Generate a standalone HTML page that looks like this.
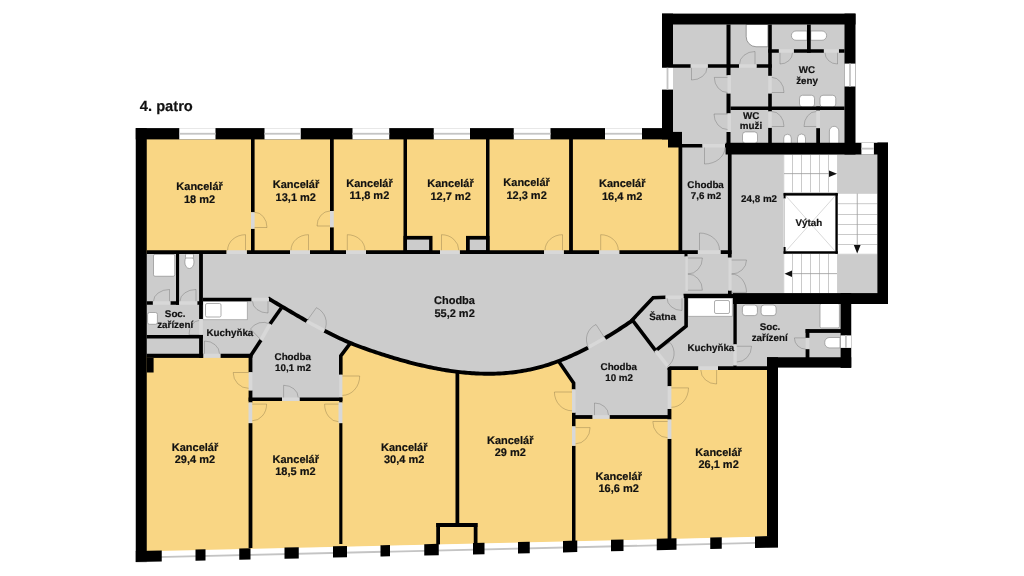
<!DOCTYPE html>
<html><head><meta charset="utf-8"><style>
html,body{margin:0;padding:0;background:#fff;width:1024px;height:576px;overflow:hidden}
svg{display:block;will-change:transform}
text{font-family:"Liberation Sans",sans-serif;font-weight:bold;fill:#111;stroke:#111;stroke-width:0.18;text-rendering:geometricPrecision}
</style></head><body>
<svg width="1024" height="576" viewBox="0 0 1024 576">
<polygon points="146.00,139.00 683.00,139.00 683.00,368.00 768.00,368.00 768.00,537.00 146.00,552.00" fill="#F9D684" />
<polygon points="202.00,253.00 732.00,253.00 732.00,296.00 686.00,296.00 653.00,297.50 632.40,320.00 633.50,319.76 632.00,320.78 630.00,322.13 628.00,323.48 626.00,324.81 624.00,326.13 622.00,327.44 620.00,328.74 618.00,330.02 616.00,331.30 614.00,332.56 612.00,333.80 610.00,335.04 608.00,336.26 606.00,337.46 604.00,338.66 602.00,339.83 600.00,340.99 598.00,342.14 596.00,343.27 594.00,344.38 592.00,345.48 590.00,346.56 588.00,347.62 586.00,348.67 584.00,349.69 582.00,350.70 580.00,351.70 578.00,352.67 576.00,353.62 574.00,354.55 572.00,355.47 570.00,356.36 568.00,357.24 566.00,358.09 564.00,358.92 562.00,359.73 560.00,360.52 558.00,361.28 556.00,362.03 554.00,362.75 552.00,363.45 550.00,364.12 548.00,364.77 546.00,365.40 544.00,366.00 542.00,366.58 540.00,367.13 538.00,367.66 536.00,368.17 534.00,368.65 532.00,369.10 530.00,369.54 528.00,369.95 526.00,370.34 524.00,370.70 522.00,371.05 520.00,371.37 518.00,371.67 516.00,371.95 514.00,372.21 512.00,372.45 510.00,372.66 508.00,372.86 506.00,373.04 504.00,373.19 502.00,373.33 500.00,373.44 498.00,373.54 496.00,373.62 494.00,373.68 492.00,373.73 490.00,373.75 488.00,373.76 486.00,373.74 484.00,373.72 482.00,373.67 480.00,373.61 478.00,373.53 476.00,373.43 474.00,373.32 472.00,373.20 470.00,373.05 468.00,372.90 466.00,372.72 464.00,372.54 462.00,372.33 460.00,372.12 458.00,371.89 456.00,371.64 454.00,371.38 452.00,371.11 450.00,370.82 448.00,370.52 446.00,370.21 444.00,369.89 442.00,369.55 440.00,369.20 438.00,368.83 436.00,368.46 434.00,368.07 432.00,367.67 430.00,367.26 428.00,366.83 426.00,366.40 424.00,365.95 422.00,365.49 420.00,365.02 418.00,364.55 416.00,364.06 414.00,363.56 412.00,363.05 410.00,362.53 408.00,362.00 406.00,361.46 404.00,360.91 402.00,360.35 400.00,359.78 398.00,359.20 396.00,358.62 394.00,358.02 392.00,357.42 390.00,356.81 388.00,356.19 386.00,355.57 384.00,354.93 382.00,354.29 380.00,353.64 378.00,352.99 376.00,352.32 374.00,351.65 372.00,350.98 370.00,350.29 368.00,349.60 366.00,348.90 364.00,348.20 362.00,347.48 360.00,346.74 358.00,346.00 356.00,345.23 354.00,344.45 352.00,343.65 350.00,342.83 348.00,341.99 346.00,341.13 344.00,340.25 342.00,339.35 340.00,338.43 338.00,337.49 336.00,336.53 334.00,335.56 332.00,334.57 330.00,333.57 328.00,332.55 326.00,331.52 324.00,330.47 322.00,329.42 320.00,328.35 318.00,327.27 316.00,326.18 314.00,325.08 312.00,323.97 310.00,322.85 308.00,321.73 306.00,320.59 304.00,319.45 302.00,318.30 300.00,317.15 298.00,315.99 296.00,314.82 294.00,313.65 292.00,312.48 290.00,311.30 288.00,310.12 286.00,308.94 284.00,307.76 282.00,306.57 280.00,305.39 278.00,304.20 276.00,303.02 274.00,301.83 272.00,300.65 270.00,299.47 269.00,298.50 202.00,298.50" fill="#CCCCCC" />
<rect x="146.00" y="253.00" width="57.00" height="103.00" fill="#CCCCCC" />
<polygon points="202.00,298.00 269.00,298.75 281.30,308.00 270.00,324.00 261.00,340.00 249.75,356.00 202.00,356.00" fill="#CCCCCC" />
<polygon points="281.30,308.00 282.00,306.57 284.00,307.76 286.00,308.94 288.00,310.12 290.00,311.30 292.00,312.48 294.00,313.65 296.00,314.82 298.00,315.99 300.00,317.15 302.00,318.30 304.00,319.45 306.00,320.59 308.00,321.73 310.00,322.85 312.00,323.97 314.00,325.08 316.00,326.18 318.00,327.27 320.00,328.35 322.00,329.42 324.00,330.47 326.00,331.52 328.00,332.55 330.00,333.57 332.00,334.57 334.00,335.56 336.00,336.53 338.00,337.49 340.00,338.43 342.00,339.35 344.00,340.25 346.00,341.13 348.00,341.99 350.00,342.83 350.00,343.70 341.00,356.00 341.00,400.00 250.50,400.00 250.50,355.50 261.00,340.00 270.00,324.00" fill="#CCCCCC" />
<polygon points="558.80,361.60 558.00,361.28 560.00,360.52 562.00,359.73 564.00,358.92 566.00,358.09 568.00,357.24 570.00,356.36 572.00,355.47 574.00,354.55 576.00,353.62 578.00,352.67 580.00,351.70 582.00,350.70 584.00,349.69 586.00,348.67 588.00,347.62 590.00,346.56 592.00,345.48 594.00,344.38 596.00,343.27 598.00,342.14 600.00,340.99 602.00,339.83 604.00,338.66 606.00,337.46 608.00,336.26 610.00,335.04 612.00,333.80 614.00,332.56 616.00,331.30 618.00,330.02 620.00,328.74 622.00,327.44 624.00,326.13 626.00,324.81 628.00,323.48 630.00,322.13 632.00,320.78 632.40,320.00 655.60,350.60 669.50,367.00 669.50,417.00 573.75,417.00 573.75,383.00" fill="#CCCCCC" />
<polygon points="653.00,297.50 686.00,296.00 686.00,326.00 655.60,350.60 632.40,320.00" fill="#CCCCCC" />
<polygon points="686.00,296.00 735.00,296.00 735.00,368.00 669.50,368.00 655.60,350.60 686.00,326.00" fill="#CCCCCC" />
<rect x="735.00" y="300.00" width="107.00" height="68.00" fill="#CCCCCC" />
<rect x="680.00" y="145.00" width="200.00" height="151.00" fill="#CCCCCC" />
<rect x="672.00" y="24.00" width="173.00" height="120.00" fill="#CCCCCC" />
<rect x="783.60" y="154.75" width="54.00" height="38.05" fill="#FFFFFF" />
<rect x="783.60" y="253.75" width="54.00" height="39.35" fill="#FFFFFF" />
<rect x="837.60" y="193.10" width="39.80" height="61.30" fill="#FFFFFF" />
<rect x="792.10" y="154.75" width="0.80" height="38.05" fill="#BDBDBD" />
<rect x="792.10" y="253.75" width="0.80" height="39.35" fill="#BDBDBD" />
<rect x="801.10" y="154.75" width="0.80" height="38.05" fill="#BDBDBD" />
<rect x="801.10" y="253.75" width="0.80" height="39.35" fill="#BDBDBD" />
<rect x="810.10" y="154.75" width="0.80" height="38.05" fill="#BDBDBD" />
<rect x="810.10" y="253.75" width="0.80" height="39.35" fill="#BDBDBD" />
<rect x="819.10" y="154.75" width="0.80" height="38.05" fill="#BDBDBD" />
<rect x="819.10" y="253.75" width="0.80" height="39.35" fill="#BDBDBD" />
<rect x="828.10" y="154.75" width="0.80" height="38.05" fill="#BDBDBD" />
<rect x="828.10" y="253.75" width="0.80" height="39.35" fill="#BDBDBD" />
<rect x="783.60" y="154.75" width="0.60" height="38.05" fill="#BDBDBD" />
<rect x="837.00" y="154.75" width="0.60" height="38.05" fill="#BDBDBD" />
<rect x="783.60" y="253.75" width="0.60" height="39.35" fill="#BDBDBD" />
<rect x="837.00" y="253.75" width="0.60" height="39.35" fill="#BDBDBD" />
<rect x="783.60" y="192.20" width="54.00" height="0.60" fill="#BDBDBD" />
<rect x="837.60" y="203.35" width="39.80" height="0.80" fill="#BDBDBD" />
<rect x="837.60" y="214.00" width="39.80" height="0.80" fill="#BDBDBD" />
<rect x="837.60" y="224.00" width="39.80" height="0.80" fill="#BDBDBD" />
<rect x="837.60" y="234.00" width="39.80" height="0.80" fill="#BDBDBD" />
<rect x="837.60" y="244.00" width="39.80" height="0.80" fill="#BDBDBD" />
<rect x="837.60" y="193.10" width="39.80" height="0.60" fill="#BDBDBD" />
<rect x="837.60" y="253.80" width="39.80" height="0.60" fill="#BDBDBD" />
<rect x="784.00" y="173.30" width="46.00" height="0.80" fill="#9A9A9A" />
<polygon points="829.00,170.50 837.00,173.70 829.00,176.90" fill="#111" />
<rect x="856.80" y="193.50" width="0.80" height="52.50" fill="#9A9A9A" />
<polygon points="853.80,245.00 857.20,253.50 860.60,245.00" fill="#111" />
<rect x="790.00" y="273.30" width="47.00" height="0.80" fill="#9A9A9A" />
<polygon points="792.00,270.50 784.50,273.70 792.00,276.90" fill="#111" />
<rect x="783.60" y="193.10" width="54.15" height="60.65" fill="#FFFFFF" />
<line x1="786" y1="196" x2="835" y2="251" stroke="#C8C8C8" stroke-width="0.7"/>
<line x1="835" y1="196" x2="786" y2="251" stroke="#C8C8C8" stroke-width="0.7"/>
<rect x="783.60" y="193.10" width="54.15" height="2.50" fill="#000000" />
<rect x="835.40" y="193.10" width="2.35" height="60.65" fill="#000000" />
<rect x="783.60" y="251.25" width="54.15" height="2.50" fill="#000000" />
<rect x="783.60" y="193.10" width="2.00" height="5.40" fill="#000000" />
<rect x="783.60" y="247.00" width="2.00" height="6.75" fill="#000000" />
<rect x="783.90" y="198.50" width="0.80" height="48.50" fill="#BBBBBB" />
<rect x="153.50" y="254.40" width="21.25" height="21.85" rx="1.5" fill="#FFFFFF" stroke="#8C8C8C" stroke-width="0.7"/>
<ellipse cx="189.40" cy="262.00" rx="4.60" ry="6.50" fill="#FFFFFF" stroke="#8C8C8C" stroke-width="0.7"/>
<rect x="185.50" y="254.00" width="8.00" height="4.00" rx="1" fill="#FFFFFF" stroke="#8C8C8C" stroke-width="0.7"/>
<rect x="202.9" y="301.25" width="44.35" height="18.5" fill="#FFF" stroke="#9A9A9A" stroke-width="0.7"/>
<rect x="205.50" y="303.50" width="15.50" height="13.50" rx="1.5" fill="#FFFFFF" stroke="#8C8C8C" stroke-width="0.7"/>
<rect x="147.60" y="312.50" width="9.80" height="11.80" rx="2" fill="#FFFFFF" stroke="#8C8C8C" stroke-width="0.7"/>
<rect x="687.9" y="298" width="44.35" height="18.25" fill="#FFF" stroke="#9A9A9A" stroke-width="0.7"/>
<rect x="714.50" y="300.50" width="15.00" height="13.00" rx="1.5" fill="#FFFFFF" stroke="#8C8C8C" stroke-width="0.7"/>
<rect x="742.40" y="305.00" width="15.00" height="10.60" rx="3" fill="#FFFFFF" stroke="#8C8C8C" stroke-width="0.7"/>
<rect x="761.10" y="305.00" width="15.00" height="10.60" rx="3" fill="#FFFFFF" stroke="#8C8C8C" stroke-width="0.7"/>
<rect x="820.00" y="303.50" width="19.40" height="24.40" rx="1.5" fill="#FFFFFF" stroke="#8C8C8C" stroke-width="0.7"/>
<path d="M840,337.5 L829,337.5 A5.3,5.3 0 0 0 829,347.9 L840,347.9 Z" fill="#FFF" stroke="#8C8C8C" stroke-width="0.7"/>
<path d="M746.2,24.5 L767.9,24.5 L767.9,46.75 L756,46.75 A10,10 0 0 1 746.2,36.5 Z" fill="#FFF" stroke="#777" stroke-width="0.7"/>
<path d="M807,31 L796,31 A4.6,4.6 0 0 0 796,40.25 L807,40.25 Z" fill="#FFF" stroke="#8C8C8C" stroke-width="0.7"/>
<path d="M810.75,31 L822,31 A4.6,4.6 0 0 1 822,40.25 L810.75,40.25 Z" fill="#FFF" stroke="#8C8C8C" stroke-width="0.7"/>
<rect x="799.50" y="95.25" width="15.00" height="11.75" rx="3" fill="#FFFFFF" stroke="#8C8C8C" stroke-width="0.7"/>
<rect x="820.00" y="95.25" width="15.75" height="11.75" rx="3" fill="#FFFFFF" stroke="#8C8C8C" stroke-width="0.7"/>
<rect x="742.50" y="131.90" width="15.00" height="11.60" rx="3" fill="#FFFFFF" stroke="#8C8C8C" stroke-width="0.7"/>
<path d="M783.75,143.5 L783.75,138 A3.75,3.75 0 0 1 791.25,138 L791.25,143.5 Z" fill="#FFF" stroke="#8C8C8C" stroke-width="0.7"/>
<path d="M797.5,143.5 L797.5,138 A4,4 0 0 1 805.5,138 L805.5,143.5 Z" fill="#FFF" stroke="#8C8C8C" stroke-width="0.7"/>
<path d="M829.4,143.5 L829.4,131 A4.7,4.7 0 0 1 838.8,131 L838.8,143.5 Z" fill="#FFF" stroke="#8C8C8C" stroke-width="0.7"/>
<rect x="135.75" y="128.10" width="537.25" height="11.30" fill="#000000" />
<rect x="662.00" y="13.60" width="11.00" height="125.80" fill="#000000" />
<rect x="668.00" y="131.90" width="14.00" height="15.60" fill="#000000" />
<rect x="662.00" y="13.60" width="193.50" height="10.90" fill="#000000" />
<rect x="844.50" y="13.60" width="11.00" height="140.90" fill="#000000" />
<rect x="725.60" y="142.75" width="162.40" height="11.75" fill="#000000" />
<rect x="877.40" y="142.50" width="10.60" height="161.50" fill="#000000" />
<rect x="733.00" y="293.10" width="155.00" height="10.90" fill="#000000" />
<rect x="840.60" y="293.00" width="10.65" height="74.90" fill="#000000" />
<rect x="767.00" y="357.25" width="84.25" height="10.25" fill="#000000" />
<rect x="767.00" y="357.25" width="11.00" height="190.25" fill="#000000" />
<rect x="135.75" y="128.10" width="11.00" height="434.00" fill="#000000" />
<rect x="146.75" y="358.00" width="6.85" height="14.50" fill="#000000" />
<polygon points="135.75,551.51 778.00,536.34 778.00,547.50 135.75,562.10" fill="#FFFFFF" />
<polygon points="146.00,556.47 767.00,541.80 767.00,543.60 146.00,558.27" fill="#C4C4C4" />
<polygon points="135.75,551.01 161.75,550.40 161.75,561.51 135.75,562.10" fill="#000000" />
<polygon points="195.50,549.60 205.50,549.36 205.50,560.51 195.50,560.74" fill="#000000" />
<polygon points="239.25,548.57 250.50,548.30 250.50,559.49 239.25,559.75" fill="#000000" />
<polygon points="284.50,547.50 298.75,547.16 298.75,558.39 284.50,558.72" fill="#000000" />
<polygon points="333.00,546.35 347.00,546.02 347.00,557.30 333.00,557.62" fill="#000000" />
<polygon points="380.50,545.23 390.00,545.01 390.00,556.32 380.50,556.54" fill="#000000" />
<polygon points="424.25,544.20 438.75,543.85 438.75,555.21 424.25,555.54" fill="#000000" />
<polygon points="473.00,543.05 484.50,542.77 484.50,554.17 473.00,554.43" fill="#000000" />
<polygon points="518.00,541.98 529.75,541.71 529.75,553.14 518.00,553.41" fill="#000000" />
<polygon points="563.00,540.92 577.25,540.58 577.25,552.06 563.00,552.39" fill="#000000" />
<polygon points="611.00,539.79 623.50,539.49 623.50,551.01 611.00,551.29" fill="#000000" />
<polygon points="656.75,538.71 676.50,538.24 676.50,549.81 656.75,550.25" fill="#000000" />
<polygon points="710.25,537.44 721.75,537.17 721.75,548.78 710.25,549.04" fill="#000000" />
<polygon points="755.00,536.39 778.00,535.84 778.00,547.50 755.00,548.02" fill="#000000" />
<rect x="251.00" y="139.00" width="3.60" height="73.25" fill="#000000" />
<rect x="251.00" y="228.75" width="3.60" height="25.25" fill="#000000" />
<rect x="330.00" y="139.00" width="3.75" height="72.00" fill="#000000" />
<rect x="330.00" y="227.25" width="3.75" height="26.75" fill="#000000" />
<rect x="403.50" y="139.00" width="3.50" height="115.00" fill="#000000" />
<rect x="486.00" y="139.00" width="3.50" height="115.00" fill="#000000" />
<rect x="569.10" y="139.00" width="3.80" height="115.00" fill="#000000" />
<rect x="678.50" y="147.00" width="3.75" height="107.00" fill="#000000" />
<rect x="403.50" y="235.90" width="29.00" height="18.10" fill="#000000" />
<rect x="407.00" y="239.60" width="22.10" height="10.65" fill="#CCCCCC" />
<rect x="466.00" y="235.90" width="23.50" height="18.10" fill="#000000" />
<rect x="469.75" y="239.60" width="16.25" height="10.65" fill="#CCCCCC" />
<rect x="146.75" y="250.25" width="79.85" height="3.75" fill="#000000" />
<rect x="246.75" y="250.25" width="43.25" height="3.75" fill="#000000" />
<rect x="310.00" y="250.25" width="36.00" height="3.75" fill="#000000" />
<rect x="366.00" y="250.25" width="74.00" height="3.75" fill="#000000" />
<rect x="459.75" y="250.25" width="84.35" height="3.75" fill="#000000" />
<rect x="563.75" y="250.25" width="35.50" height="3.75" fill="#000000" />
<rect x="619.25" y="250.25" width="78.65" height="3.75" fill="#000000" />
<rect x="720.50" y="250.25" width="11.10" height="3.75" fill="#000000" />
<rect x="682.00" y="144.00" width="20.50" height="3.50" fill="#000000" />
<rect x="725.00" y="144.00" width="6.90" height="3.50" fill="#000000" />
<rect x="727.90" y="144.00" width="3.70" height="113.50" fill="#000000" />
<rect x="684.50" y="252.50" width="3.00" height="4.00" fill="#000000" />
<rect x="728.00" y="290.50" width="3.60" height="3.50" fill="#000000" />
<rect x="176.00" y="253.75" width="3.10" height="51.00" fill="#000000" />
<rect x="199.10" y="253.75" width="3.80" height="65.35" fill="#000000" />
<rect x="199.10" y="334.75" width="3.80" height="23.15" fill="#000000" />
<rect x="146.75" y="301.25" width="6.15" height="3.50" fill="#000000" />
<rect x="170.40" y="301.25" width="8.70" height="3.50" fill="#000000" />
<rect x="197.25" y="301.25" width="5.65" height="3.50" fill="#000000" />
<rect x="202.90" y="297.75" width="48.70" height="3.50" fill="#000000" />
<rect x="146.75" y="335.00" width="56.15" height="3.50" fill="#000000" />
<rect x="146.75" y="353.75" width="56.75" height="4.15" fill="#000000" />
<rect x="220.40" y="353.75" width="32.00" height="4.15" fill="#000000" />
<polyline points="250.50,356.00 261.00,340.00" fill="none" stroke="#000000" stroke-width="3.6" stroke-linecap="butt" stroke-linejoin="miter"/>
<polyline points="270.00,324.00 281.30,308.00" fill="none" stroke="#000000" stroke-width="3.6" stroke-linecap="butt" stroke-linejoin="miter"/>
<polyline points="268.00,298.29 270.00,299.47 272.00,300.65 274.00,301.83 276.00,303.02 278.00,304.20 280.00,305.39 282.00,306.57 284.00,307.76 286.00,308.94 288.00,310.12 290.00,311.30 292.00,312.48 294.00,313.65 296.00,314.82 298.00,315.99 300.00,317.15 302.00,318.30 304.00,319.45 306.00,320.59 307.50,321.44" fill="none" stroke="#000000" stroke-width="3.9" stroke-linecap="butt" stroke-linejoin="miter"/>
<polyline points="324.40,330.68 326.00,331.52 328.00,332.55 330.00,333.57 332.00,334.57 334.00,335.56 336.00,336.53 338.00,337.49 340.00,338.43 342.00,339.35 344.00,340.25 346.00,341.13 348.00,341.99 350.00,342.83 352.00,343.65 354.00,344.45 356.00,345.23 358.00,346.00 360.00,346.74 362.00,347.48 364.00,348.20 366.00,348.90 368.00,349.60 370.00,350.29 372.00,350.98 374.00,351.65 376.00,352.32 378.00,352.99 380.00,353.64 382.00,354.29 384.00,354.93 386.00,355.57 388.00,356.19 390.00,356.81 392.00,357.42 394.00,358.02 396.00,358.62 398.00,359.20 400.00,359.78 402.00,360.35 404.00,360.91 406.00,361.46 408.00,362.00 410.00,362.53 412.00,363.05 414.00,363.56 416.00,364.06 418.00,364.55 420.00,365.02 422.00,365.49 424.00,365.95 426.00,366.40 428.00,366.83 430.00,367.26 432.00,367.67 434.00,368.07 436.00,368.46 438.00,368.83 440.00,369.20 442.00,369.55 444.00,369.89 446.00,370.21 448.00,370.52 450.00,370.82 452.00,371.11 454.00,371.38 456.00,371.64 458.00,371.89 460.00,372.12 462.00,372.33 464.00,372.54 466.00,372.72 468.00,372.90 470.00,373.05 472.00,373.20 474.00,373.32 476.00,373.43 478.00,373.53 480.00,373.61 482.00,373.67 484.00,373.72 486.00,373.74 488.00,373.76 490.00,373.75 492.00,373.73 494.00,373.68 496.00,373.62 498.00,373.54 500.00,373.44 502.00,373.33 504.00,373.19 506.00,373.04 508.00,372.86 510.00,372.66 512.00,372.45 514.00,372.21 516.00,371.95 518.00,371.67 520.00,371.37 522.00,371.05 524.00,370.70 526.00,370.34 528.00,369.95 530.00,369.54 532.00,369.10 534.00,368.65 536.00,368.17 538.00,367.66 540.00,367.13 542.00,366.58 544.00,366.00 546.00,365.40 548.00,364.77 550.00,364.12 552.00,363.45 554.00,362.75 556.00,362.03 558.00,361.28 560.00,360.52 562.00,359.73 564.00,358.92 566.00,358.09 568.00,357.24 570.00,356.36 572.00,355.47 574.00,354.55 576.00,353.62 578.00,352.67 580.00,351.70 582.00,350.70 584.00,349.69 586.00,348.67 588.00,347.62 588.20,347.52" fill="none" stroke="#000000" stroke-width="3.9" stroke-linecap="butt" stroke-linejoin="miter"/>
<polyline points="605.00,338.06 606.00,337.46 608.00,336.26 610.00,335.04 612.00,333.80 614.00,332.56 616.00,331.30 618.00,330.02 620.00,328.74 622.00,327.44 624.00,326.13 626.00,324.81 628.00,323.48 630.00,322.13 632.00,320.78 633.50,319.76" fill="none" stroke="#000000" stroke-width="3.9" stroke-linecap="butt" stroke-linejoin="miter"/>
<polyline points="350.00,343.70 340.80,355.80 340.80,374.75" fill="none" stroke="#000000" stroke-width="3.6" stroke-linecap="butt" stroke-linejoin="miter"/>
<rect x="339.25" y="397.25" width="3.15" height="5.25" fill="#000000" />
<rect x="339.25" y="423.10" width="3.15" height="120.90" fill="#000000" />
<rect x="248.60" y="354.00" width="3.80" height="18.25" fill="#000000" />
<rect x="248.60" y="390.40" width="3.80" height="12.10" fill="#000000" />
<rect x="248.60" y="423.10" width="3.80" height="124.90" fill="#000000" />
<rect x="248.60" y="397.50" width="33.40" height="3.50" fill="#000000" />
<rect x="299.50" y="397.50" width="42.90" height="3.50" fill="#000000" />
<polyline points="558.80,361.60 573.60,383.10 573.60,389.40" fill="none" stroke="#000000" stroke-width="3.6" stroke-linecap="butt" stroke-linejoin="miter"/>
<rect x="572.00" y="412.60" width="3.50" height="13.80" fill="#000000" />
<rect x="572.00" y="445.75" width="3.50" height="100.25" fill="#000000" />
<rect x="572.00" y="415.10" width="20.60" height="3.80" fill="#000000" />
<rect x="609.50" y="415.10" width="61.50" height="3.80" fill="#000000" />
<rect x="667.60" y="366.90" width="3.80" height="19.35" fill="#000000" />
<rect x="667.60" y="408.90" width="3.80" height="10.60" fill="#000000" />
<rect x="667.60" y="438.90" width="3.80" height="107.10" fill="#000000" />
<polyline points="665.60,297.25 653.10,297.75 632.30,319.90 655.60,350.60 686.10,326.25 686.10,294.00" fill="none" stroke="#000000" stroke-width="3.6" stroke-linecap="butt" stroke-linejoin="miter"/>
<rect x="683.50" y="293.75" width="50.00" height="4.35" fill="#000000" />
<rect x="733.40" y="296.00" width="3.35" height="48.40" fill="#000000" />
<rect x="667.60" y="366.25" width="30.80" height="3.75" fill="#000000" />
<rect x="718.00" y="366.25" width="49.75" height="3.75" fill="#000000" />
<rect x="733.50" y="365.00" width="3.00" height="4.00" fill="#000000" />
<rect x="455.50" y="372.00" width="3.75" height="153.00" fill="#000000" />
<rect x="436.25" y="523.00" width="41.25" height="4.00" fill="#000000" />
<rect x="436.25" y="523.00" width="3.75" height="21.32" fill="#000000" />
<rect x="473.75" y="523.00" width="3.75" height="20.45" fill="#000000" />
<rect x="726.50" y="24.50" width="4.00" height="50.75" fill="#000000" />
<rect x="726.50" y="93.40" width="4.00" height="20.00" fill="#000000" />
<rect x="726.50" y="132.00" width="4.00" height="12.00" fill="#000000" />
<rect x="768.20" y="24.50" width="3.60" height="51.40" fill="#000000" />
<rect x="768.20" y="93.40" width="3.60" height="18.10" fill="#000000" />
<rect x="768.20" y="127.75" width="3.60" height="16.25" fill="#000000" />
<rect x="673.00" y="64.25" width="17.75" height="3.50" fill="#000000" />
<rect x="707.75" y="64.25" width="31.25" height="3.50" fill="#000000" />
<rect x="756.50" y="64.25" width="15.30" height="3.50" fill="#000000" />
<rect x="807.00" y="24.50" width="3.75" height="28.25" fill="#000000" />
<rect x="768.20" y="49.25" width="10.70" height="3.50" fill="#000000" />
<rect x="793.75" y="49.25" width="30.15" height="3.50" fill="#000000" />
<rect x="838.90" y="49.25" width="5.60" height="3.50" fill="#000000" />
<rect x="730.50" y="106.50" width="114.00" height="3.50" fill="#000000" />
<rect x="816.25" y="106.50" width="3.75" height="4.10" fill="#000000" />
<rect x="816.25" y="128.10" width="3.75" height="15.90" fill="#000000" />
<rect x="805.60" y="329.10" width="35.40" height="3.80" fill="#000000" />
<rect x="805.60" y="329.10" width="3.80" height="8.80" fill="#000000" />
<rect x="805.60" y="349.10" width="3.80" height="8.90" fill="#000000" />
<rect x="179.25" y="128.10" width="36.25" height="11.30" fill="#FFFFFF" />
<rect x="179.25" y="132.85" width="36.25" height="1.80" fill="#C4C4C4" />
<rect x="264.50" y="128.10" width="36.25" height="11.30" fill="#FFFFFF" />
<rect x="264.50" y="132.85" width="36.25" height="1.80" fill="#C4C4C4" />
<rect x="352.50" y="128.10" width="36.75" height="11.30" fill="#FFFFFF" />
<rect x="352.50" y="132.85" width="36.75" height="1.80" fill="#C4C4C4" />
<rect x="433.75" y="128.10" width="36.25" height="11.30" fill="#FFFFFF" />
<rect x="433.75" y="132.85" width="36.25" height="1.80" fill="#C4C4C4" />
<rect x="513.75" y="128.10" width="36.75" height="11.30" fill="#FFFFFF" />
<rect x="513.75" y="132.85" width="36.75" height="1.80" fill="#C4C4C4" />
<rect x="605.00" y="128.10" width="37.00" height="11.30" fill="#FFFFFF" />
<rect x="605.00" y="132.85" width="37.00" height="1.80" fill="#C4C4C4" />
<rect x="662.00" y="67.75" width="11.00" height="21.85" fill="#FFFFFF" />
<rect x="666.60" y="67.75" width="1.80" height="21.85" fill="#C4C4C4" />
<rect x="844.50" y="63.60" width="11.00" height="22.90" fill="#FFFFFF" />
<rect x="849.10" y="63.60" width="1.80" height="22.90" fill="#C4C4C4" />
<rect x="861.40" y="142.75" width="12.50" height="11.75" fill="#FFFFFF" />
<rect x="861.40" y="147.72" width="12.50" height="1.80" fill="#C4C4C4" />
<rect x="840.60" y="335.40" width="10.65" height="12.50" fill="#FFFFFF" />
<rect x="845.02" y="335.40" width="1.80" height="12.50" fill="#C4C4C4" />
<rect x="226.60" y="250.25" width="20.15" height="3.75" fill="#D8D8D8" />
<rect x="290.00" y="250.25" width="20.00" height="3.75" fill="#D8D8D8" />
<rect x="346.00" y="250.25" width="20.00" height="3.75" fill="#D8D8D8" />
<rect x="440.00" y="250.25" width="19.75" height="3.75" fill="#D8D8D8" />
<rect x="544.10" y="250.25" width="19.65" height="3.75" fill="#D8D8D8" />
<rect x="599.25" y="250.25" width="20.00" height="3.75" fill="#D8D8D8" />
<rect x="697.90" y="250.25" width="22.60" height="3.75" fill="#D8D8D8" />
<rect x="702.50" y="144.00" width="22.50" height="3.50" fill="#D8D8D8" />
<rect x="251.00" y="212.25" width="3.60" height="16.50" fill="#D8D8D8" />
<rect x="330.00" y="211.00" width="3.75" height="16.25" fill="#D8D8D8" />
<rect x="152.90" y="301.25" width="17.50" height="3.50" fill="#D8D8D8" />
<rect x="179.10" y="301.25" width="18.15" height="3.50" fill="#D8D8D8" />
<rect x="199.10" y="319.10" width="3.80" height="15.65" fill="#D8D8D8" />
<rect x="251.60" y="297.75" width="17.40" height="3.50" fill="#D8D8D8" />
<rect x="203.50" y="353.75" width="16.90" height="4.15" fill="#D8D8D8" />
<polyline points="261.00,340.00 270.00,324.00" fill="none" stroke="#D8D8D8" stroke-width="3.6" stroke-linecap="butt" stroke-linejoin="miter"/>
<polyline points="306.60,321.25 324.40,330.60" fill="none" stroke="#D8D8D8" stroke-width="3.6" stroke-linecap="butt" stroke-linejoin="miter"/>
<polyline points="588.00,347.50 605.00,338.00" fill="none" stroke="#D8D8D8" stroke-width="3.6" stroke-linecap="butt" stroke-linejoin="miter"/>
<rect x="248.60" y="372.25" width="3.80" height="18.15" fill="#D8D8D8" />
<rect x="282.00" y="397.50" width="17.50" height="3.50" fill="#D8D8D8" />
<rect x="339.25" y="374.75" width="3.15" height="22.50" fill="#D8D8D8" />
<rect x="248.50" y="402.50" width="3.75" height="20.60" fill="#D8D8D8" />
<rect x="338.50" y="402.50" width="3.90" height="20.60" fill="#D8D8D8" />
<rect x="572.00" y="389.40" width="3.50" height="23.20" fill="#D8D8D8" />
<rect x="592.60" y="415.10" width="16.90" height="3.80" fill="#D8D8D8" />
<rect x="667.60" y="386.25" width="3.80" height="22.65" fill="#D8D8D8" />
<rect x="572.00" y="426.40" width="3.50" height="19.35" fill="#D8D8D8" />
<rect x="667.60" y="419.50" width="3.80" height="19.40" fill="#D8D8D8" />
<polyline points="655.60,350.60 668.50,367.00" fill="none" stroke="#D8D8D8" stroke-width="3.6" stroke-linecap="butt" stroke-linejoin="miter"/>
<rect x="665.60" y="295.50" width="17.90" height="3.50" fill="#D8D8D8" />
<rect x="733.40" y="344.40" width="3.35" height="21.20" fill="#D8D8D8" />
<rect x="698.40" y="366.25" width="19.60" height="3.75" fill="#D8D8D8" />
<rect x="805.60" y="337.90" width="3.80" height="11.20" fill="#D8D8D8" />
<rect x="685.40" y="256.50" width="2.50" height="34.50" fill="#D8D8D8" />
<rect x="728.50" y="258.00" width="3.10" height="32.50" fill="#D8D8D8" />
<rect x="690.75" y="64.25" width="17.00" height="3.50" fill="#D8D8D8" />
<rect x="739.00" y="64.25" width="17.50" height="3.50" fill="#D8D8D8" />
<rect x="727.50" y="75.25" width="3.50" height="18.15" fill="#D8D8D8" />
<rect x="727.50" y="113.40" width="3.50" height="18.60" fill="#D8D8D8" />
<rect x="768.20" y="75.90" width="3.60" height="17.50" fill="#D8D8D8" />
<rect x="768.20" y="111.50" width="3.60" height="16.25" fill="#D8D8D8" />
<rect x="778.90" y="49.25" width="14.85" height="3.50" fill="#D8D8D8" />
<rect x="823.90" y="49.25" width="15.00" height="3.50" fill="#D8D8D8" />
<rect x="816.25" y="110.60" width="3.75" height="17.50" fill="#D8D8D8" />
<path d="M245.50,250.25 L245.50,234.70 A17.90,15.55 0 0 0 227.60,250.25" fill="none" stroke="rgba(0,0,0,0.24)" stroke-width="0.8"/>
<path d="M308.50,250.25 L308.50,234.70 A17.50,15.55 0 0 0 291.00,250.25" fill="none" stroke="rgba(0,0,0,0.24)" stroke-width="0.8"/>
<path d="M347.30,250.25 L347.30,234.70 A17.70,15.55 0 0 1 365.00,250.25" fill="none" stroke="rgba(0,0,0,0.24)" stroke-width="0.8"/>
<path d="M441.50,250.25 L441.50,234.70 A17.30,15.55 0 0 1 458.80,250.25" fill="none" stroke="rgba(0,0,0,0.24)" stroke-width="0.8"/>
<path d="M562.50,250.25 L562.50,234.70 A17.50,15.55 0 0 0 545.00,250.25" fill="none" stroke="rgba(0,0,0,0.24)" stroke-width="0.8"/>
<path d="M600.70,250.25 L600.70,234.70 A17.60,15.55 0 0 1 618.30,250.25" fill="none" stroke="rgba(0,0,0,0.24)" stroke-width="0.8"/>
<path d="M699.50,250.00 L699.50,233.00 A20.00,17.00 0 0 1 719.50,250.00" fill="none" stroke="rgba(0,0,0,0.24)" stroke-width="0.8"/>
<path d="M254.60,227.50 L267.00,227.50 A12.40,15.25 0 0 0 254.60,212.25" fill="none" stroke="rgba(0,0,0,0.24)" stroke-width="0.8"/>
<path d="M330.00,226.00 L317.00,226.00 A13.00,15.00 0 0 1 330.00,211.00" fill="none" stroke="rgba(0,0,0,0.24)" stroke-width="0.8"/>
<path d="M169.50,301.25 L169.50,289.50 A16.00,11.75 0 0 0 153.50,301.25" fill="none" stroke="rgba(0,0,0,0.24)" stroke-width="0.8"/>
<path d="M196.00,301.25 L196.00,289.50 A16.00,11.75 0 0 0 180.00,301.25" fill="none" stroke="rgba(0,0,0,0.24)" stroke-width="0.8"/>
<path d="M199.10,334.75 L189.00,334.75 A10.10,14.25 0 0 1 199.10,320.50" fill="none" stroke="rgba(0,0,0,0.24)" stroke-width="0.8"/>
<path d="M268.00,301.25 L268.00,313.00 A15.50,11.75 0 0 1 252.50,301.25" fill="none" stroke="rgba(0,0,0,0.24)" stroke-width="0.8"/>
<path d="M204.50,353.75 L204.50,341.00 A15.00,12.75 0 0 1 219.50,353.75" fill="none" stroke="rgba(0,0,0,0.24)" stroke-width="0.8"/>
<path d="M261.00,340.00 L250.50,329.00 A15.21,15.21 0 0 1 270.00,324.00" fill="none" stroke="rgba(0,0,0,0.24)" stroke-width="0.8"/>
<path d="M306.60,321.25 L316.40,307.70 A16.72,16.72 0 0 1 324.40,330.60" fill="none" stroke="rgba(0,0,0,0.24)" stroke-width="0.8"/>
<path d="M605.00,338.30 L596.00,324.50 A16.48,16.48 0 0 0 588.50,347.50" fill="none" stroke="rgba(0,0,0,0.24)" stroke-width="0.8"/>
<path d="M248.60,372.50 L233.20,372.50 A15.40,15.80 0 0 0 248.60,388.30" fill="none" stroke="rgba(0,0,0,0.24)" stroke-width="0.8"/>
<path d="M283.60,397.50 L283.60,385.30 A14.60,12.20 0 0 1 298.20,397.50" fill="none" stroke="rgba(0,0,0,0.24)" stroke-width="0.8"/>
<path d="M342.40,376.00 L359.70,376.00 A17.30,19.40 0 0 1 342.40,395.40" fill="none" stroke="rgba(0,0,0,0.24)" stroke-width="0.8"/>
<path d="M252.25,404.10 L266.60,404.10 A14.35,16.70 0 0 1 252.25,420.80" fill="none" stroke="rgba(0,0,0,0.24)" stroke-width="0.8"/>
<path d="M338.50,404.10 L324.60,404.10 A13.90,17.60 0 0 0 338.50,421.70" fill="none" stroke="rgba(0,0,0,0.24)" stroke-width="0.8"/>
<path d="M572.00,392.00 L554.40,392.00 A17.60,18.80 0 0 0 572.00,410.80" fill="none" stroke="rgba(0,0,0,0.24)" stroke-width="0.8"/>
<path d="M594.50,415.10 L594.50,403.00 A14.00,12.10 0 0 1 608.50,415.10" fill="none" stroke="rgba(0,0,0,0.24)" stroke-width="0.8"/>
<path d="M671.40,387.90 L688.50,387.90 A17.10,19.40 0 0 1 671.40,407.30" fill="none" stroke="rgba(0,0,0,0.24)" stroke-width="0.8"/>
<path d="M575.50,427.60 L590.10,427.60 A14.60,16.20 0 0 1 575.50,443.80" fill="none" stroke="rgba(0,0,0,0.24)" stroke-width="0.8"/>
<path d="M667.60,421.50 L652.80,421.50 A14.80,16.20 0 0 0 667.60,437.70" fill="none" stroke="rgba(0,0,0,0.24)" stroke-width="0.8"/>
<path d="M656.00,351.10 L670.00,342.50 A16.43,16.43 0 0 1 667.30,366.70" fill="none" stroke="rgba(0,0,0,0.24)" stroke-width="0.8"/>
<path d="M682.00,298.00 L682.00,310.50 A15.00,12.50 0 0 1 667.00,298.00" fill="none" stroke="rgba(0,0,0,0.24)" stroke-width="0.8"/>
<path d="M736.75,346.25 L751.50,346.25 A14.75,15.75 0 0 1 736.75,362.00" fill="none" stroke="rgba(0,0,0,0.24)" stroke-width="0.8"/>
<path d="M716.60,370.00 L716.60,384.00 A15.80,14.00 0 0 1 700.80,370.00" fill="none" stroke="rgba(0,0,0,0.24)" stroke-width="0.8"/>
<path d="M805.60,337.90 L794.40,337.90 A11.20,11.20 0 0 0 805.60,349.10" fill="none" stroke="rgba(0,0,0,0.24)" stroke-width="0.8"/>
<path d="M687.90,258.00 L702.40,258.00 A14.50,16.00 0 0 1 687.90,274.00" fill="none" stroke="rgba(0,0,0,0.24)" stroke-width="0.8"/>
<path d="M687.90,290.20 L702.40,290.20 A14.50,16.20 0 0 0 687.90,274.00" fill="none" stroke="rgba(0,0,0,0.24)" stroke-width="0.8"/>
<path d="M731.60,260.00 L746.50,260.00 A14.90,14.00 0 0 1 731.60,274.00" fill="none" stroke="rgba(0,0,0,0.24)" stroke-width="0.8"/>
<path d="M731.60,292.40 L746.50,292.40 A14.90,18.40 0 0 0 731.60,274.00" fill="none" stroke="rgba(0,0,0,0.24)" stroke-width="0.8"/>
<path d="M691.50,67.75 L691.50,80.00 A15.50,12.25 0 0 0 707.00,67.75" fill="none" stroke="rgba(0,0,0,0.24)" stroke-width="0.8"/>
<path d="M704.50,147.50 L704.50,164.00 A20.50,16.50 0 0 0 725.00,147.50" fill="none" stroke="rgba(0,0,0,0.24)" stroke-width="0.8"/>
<path d="M755.00,64.25 L755.00,51.50 A15.50,12.75 0 0 0 739.50,64.25" fill="none" stroke="rgba(0,0,0,0.24)" stroke-width="0.8"/>
<path d="M727.50,77.40 L714.30,77.40 A13.20,15.10 0 0 0 727.50,92.50" fill="none" stroke="rgba(0,0,0,0.24)" stroke-width="0.8"/>
<path d="M727.50,114.00 L714.00,114.00 A13.50,15.50 0 0 0 727.50,129.50" fill="none" stroke="rgba(0,0,0,0.24)" stroke-width="0.8"/>
<path d="M771.80,92.50 L784.00,92.50 A12.20,15.10 0 0 0 771.80,77.40" fill="none" stroke="rgba(0,0,0,0.24)" stroke-width="0.8"/>
<path d="M771.80,126.50 L784.00,126.50 A12.20,15.00 0 0 0 771.80,111.50" fill="none" stroke="rgba(0,0,0,0.24)" stroke-width="0.8"/>
<path d="M780.00,52.75 L780.00,64.00 A12.50,11.25 0 0 0 792.50,52.75" fill="none" stroke="rgba(0,0,0,0.24)" stroke-width="0.8"/>
<path d="M837.50,52.75 L837.50,64.00 A12.50,11.25 0 0 1 825.00,52.75" fill="none" stroke="rgba(0,0,0,0.24)" stroke-width="0.8"/>
<path d="M816.25,126.50 L804.00,126.50 A12.25,15.00 0 0 1 816.25,111.50" fill="none" stroke="rgba(0,0,0,0.24)" stroke-width="0.8"/>
<text x="199.60" y="190.20" font-size="11" text-anchor="middle">Kancelář</text>
<text x="199.60" y="202.80" font-size="11" text-anchor="middle">18 m2</text>
<text x="296.00" y="188.40" font-size="11" text-anchor="middle">Kancelář</text>
<text x="295.80" y="200.80" font-size="11" text-anchor="middle">13,1 m2</text>
<text x="369.50" y="186.60" font-size="11" text-anchor="middle">Kancelář</text>
<text x="369.40" y="199.20" font-size="11" text-anchor="middle">11,8 m2</text>
<text x="450.50" y="187.40" font-size="11" text-anchor="middle">Kancelář</text>
<text x="450.60" y="200.00" font-size="11" text-anchor="middle">12,7 m2</text>
<text x="526.60" y="185.90" font-size="11" text-anchor="middle">Kancelář</text>
<text x="526.60" y="198.50" font-size="11" text-anchor="middle">12,3 m2</text>
<text x="622.20" y="187.00" font-size="11" text-anchor="middle">Kancelář</text>
<text x="622.20" y="199.60" font-size="11" text-anchor="middle">16,4 m2</text>
<text x="705.60" y="188.00" font-size="9.8" text-anchor="middle">Chodba</text>
<text x="706.00" y="199.00" font-size="9.8" text-anchor="middle">7,6 m2</text>
<text x="759.10" y="202.40" font-size="9.8" text-anchor="middle">24,8 m2</text>
<text x="808.80" y="225.60" font-size="9.8" text-anchor="middle">Výtah</text>
<text x="807.00" y="73.30" font-size="9.8" text-anchor="middle">WC</text>
<text x="807.10" y="84.20" font-size="9.8" text-anchor="middle">ženy</text>
<text x="751.10" y="118.60" font-size="9.8" text-anchor="middle">WC</text>
<text x="751.00" y="129.30" font-size="9.8" text-anchor="middle">muži</text>
<text x="175.20" y="317.40" font-size="9.8" text-anchor="middle">Soc.</text>
<text x="175.20" y="327.80" font-size="9.8" text-anchor="middle">zařízení</text>
<text x="229.90" y="335.80" font-size="9.8" text-anchor="middle">Kuchyňka</text>
<text x="454.50" y="303.90" font-size="11" text-anchor="middle">Chodba</text>
<text x="454.60" y="316.50" font-size="11" text-anchor="middle">55,2 m2</text>
<text x="292.80" y="359.80" font-size="9.8" text-anchor="middle">Chodba</text>
<text x="293.00" y="370.90" font-size="9.8" text-anchor="middle">10,1 m2</text>
<text x="662.60" y="320.30" font-size="9.8" text-anchor="middle">Šatna</text>
<text x="618.80" y="369.50" font-size="9.8" text-anchor="middle">Chodba</text>
<text x="619.10" y="380.50" font-size="9.8" text-anchor="middle">10 m2</text>
<text x="710.90" y="350.70" font-size="9.8" text-anchor="middle">Kuchyňka</text>
<text x="770.00" y="330.30" font-size="9.8" text-anchor="middle">Soc.</text>
<text x="769.70" y="341.30" font-size="9.8" text-anchor="middle">zařízení</text>
<text x="195.00" y="451.10" font-size="11" text-anchor="middle">Kancelář</text>
<text x="194.90" y="463.40" font-size="11" text-anchor="middle">29,4 m2</text>
<text x="295.80" y="462.50" font-size="11" text-anchor="middle">Kancelář</text>
<text x="295.40" y="474.80" font-size="11" text-anchor="middle">18,5 m2</text>
<text x="404.30" y="451.00" font-size="11" text-anchor="middle">Kancelář</text>
<text x="404.20" y="463.30" font-size="11" text-anchor="middle">30,4 m2</text>
<text x="510.20" y="444.00" font-size="11" text-anchor="middle">Kancelář</text>
<text x="510.30" y="456.30" font-size="11" text-anchor="middle">29 m2</text>
<text x="618.70" y="479.50" font-size="11" text-anchor="middle">Kancelář</text>
<text x="618.70" y="491.90" font-size="11" text-anchor="middle">16,6 m2</text>
<text x="718.60" y="455.50" font-size="11" text-anchor="middle">Kancelář</text>
<text x="718.60" y="468.10" font-size="11" text-anchor="middle">26,1 m2</text>
<text x="139.8" y="111.1" font-size="14.7" text-anchor="start">4. patro</text>
</svg></body></html>
